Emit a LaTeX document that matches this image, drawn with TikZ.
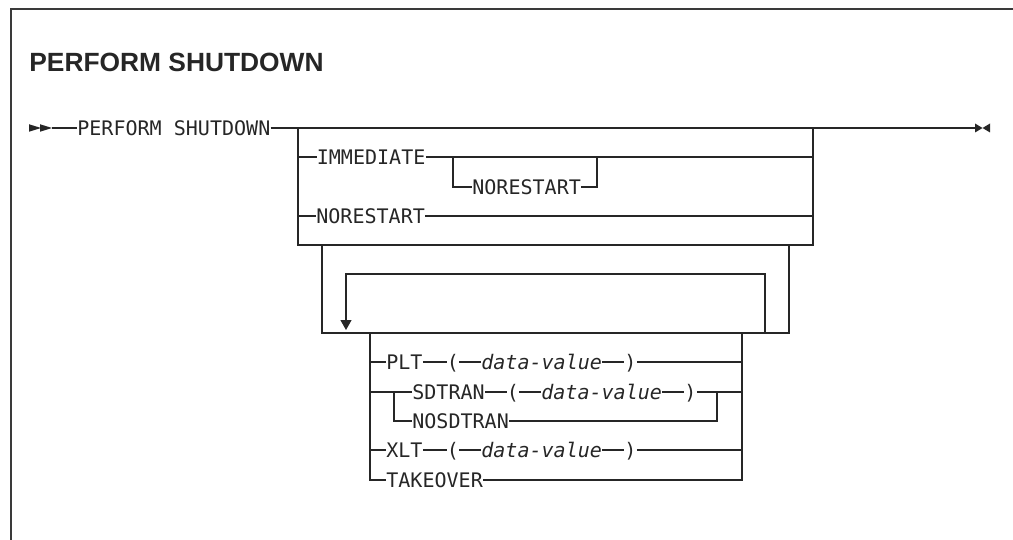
\documentclass[tikz,border=0pt]{standalone}
\usepackage{fontspec}
\usepackage{tikz}
\usetikzlibrary{positioning,arrows.meta}
\newfontfamily\railfont{DejaVu Sans Mono}
\newfontfamily\headfont{Liberation Sans}
\definecolor{ink}{HTML}{262626}
\definecolor{framegray}{HTML}{3A3A3A}

\begin{document}
\begin{tikzpicture}[
  kw/.style={font=\railfont\fontsize{11.4}{13}\selectfont, text=ink, inner sep=0pt,
    text height=8.3pt, text depth=0pt, anchor=west},
  var/.style={kw, font=\railfont\itshape\fontsize{11.4}{13}\selectfont},
  rail/.style={draw=ink, line width=0.7pt}
]
\useasboundingbox (0,0) rectangle (20.26,-10.8);
\draw[framegray, line width=0.9pt] (0.22,-10.8) -- (0.22,-0.18) -- (20.26,-0.18);
\node[anchor=base west, inner sep=0pt, text=ink, font=\headfont\bfseries\fontsize{15}{18}\selectfont]
  (title) at (0.58,-1.44) {PERFORM SHUTDOWN};

% main line
\coordinate (start) at (1.04,-2.56);
\coordinate (stop) at (19.50,-2.56);
\fill[ink] (0.58,-2.485) -- (0.82,-2.56) -- (0.58,-2.635) -- cycle;
\fill[ink] (0.80,-2.485) -- (start) -- (0.80,-2.635) -- cycle;
\node[kw] (perform) at (1.54,-2.56) {PERFORM SHUTDOWN};
\draw[rail] (start) -- (perform) -- (stop);
\fill[ink] (19.50,-2.47) -- (19.65,-2.56) -- (19.50,-2.65) -- cycle;
\fill[ink] (19.80,-2.47) -- (19.65,-2.56) -- (19.80,-2.65) -- cycle;

% first choice
\coordinate (b1nw) at (5.96,-2.56);
\coordinate (b1ne) at (16.26,-2.56);
\coordinate (b1se) at (16.26,-4.90);
\draw[rail] (b1nw) |- (b1se) -- (b1ne);
\node[kw] (immed) at (6.33,-3.14) {IMMEDIATE};
\draw[rail] (b1nw |- immed) -- (immed) -- (b1ne |- immed);
\coordinate (s1l) at (9.06,-3.14);
\coordinate (s1r) at (11.94,-3.14);
\node[kw] (norestA) at (9.44,-3.74) {NORESTART};
\draw[rail] (s1l) |- (norestA) -| (s1r);
\node[kw] (norestB) at (6.32,-4.32) {NORESTART};
\draw[rail] (b1nw |- norestB) -- (norestB) -- (b1ne |- norestB);

% repeat group
\coordinate (b2nw) at (6.44,-4.90);
\coordinate (b2sw) at (6.44,-6.66);
\coordinate (b2ne) at (15.78,-4.90);
\draw[rail] (b2nw) -- (b2sw) -| (b2ne);
\coordinate (loopr) at (15.30,-6.66);
\coordinate (looptop) at (15.30,-5.48);
\coordinate (loopend) at (6.92,-6.60);
\draw[rail, -{Triangle[length=2mm, width=2.2mm]}] (loopr) -- (looptop) -| (loopend);

% options
\coordinate (c2nw) at (7.40,-6.66);
\coordinate (c2ne) at (14.84,-6.66);
\node[kw] (plt) at (7.72,-7.24) {PLT};
\node[kw] (pltopen) at (8.93,-7.24) {(};
\node[var] (pltval) at (9.62,-7.24) {data-value};
\node[kw] (pltclose) at (12.48,-7.24) {)};
\draw[rail] (c2nw |- plt) -- (plt) -- (pltopen) -- (pltval) -- (pltclose) -- (c2ne |- plt);

\coordinate (s2l) at (7.88,-7.84);
\coordinate (s2r) at (14.34,-7.84);
\node[kw] (sdtran) at (8.24,-7.84) {SDTRAN};
\node[kw] (sdopen) at (10.13,-7.84) {(};
\node[var] (sdval) at (10.82,-7.84) {data-value};
\node[kw] (sdclose) at (13.68,-7.84) {)};
\draw[rail] (c2nw |- sdtran) -- (sdtran) -- (sdopen) -- (sdval) -- (sdclose) -- (c2ne |- sdtran);
\node[kw] (nosd) at (8.24,-8.42) {NOSDTRAN};
\draw[rail] (s2l) |- (nosd) -| (s2r);

\node[kw] (xlt) at (7.72,-9.00) {XLT};
\node[kw] (xltopen) at (8.93,-9.00) {(};
\node[var] (xltval) at (9.62,-9.00) {data-value};
\node[kw] (xltclose) at (12.48,-9.00) {)};
\draw[rail] (c2nw |- xlt) -- (xlt) -- (xltopen) -- (xltval) -- (xltclose) -- (c2ne |- xlt);

\node[kw] (takeover) at (7.72,-9.60) {TAKEOVER};
\draw[rail] (c2nw) |- (takeover) -| (c2ne);
\end{tikzpicture}
\end{document}
